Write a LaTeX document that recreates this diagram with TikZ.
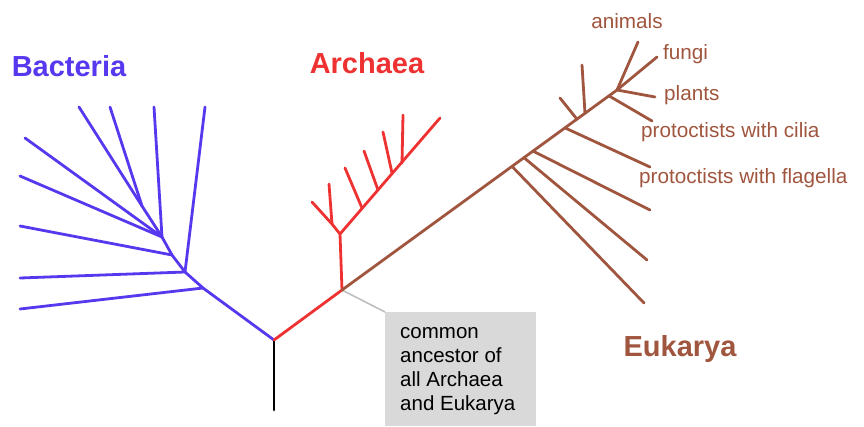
\documentclass[tikz,border=0pt]{standalone}
\usepackage{fontspec}
\setmainfont{Liberation Sans}
\definecolor{bact}{RGB}{88,56,238}
\definecolor{arch}{RGB}{238,50,50}
\definecolor{euk}{RGB}{160,85,62}
\definecolor{boxgray}{RGB}{217,217,217}
\definecolor{conngray}{RGB}{190,190,190}
\tikzset{
  br/.style={line width=2.8pt, line join=round, line cap=round},
  bactline/.style={br, draw=bact},
  archline/.style={br, draw=arch},
  eukline/.style={br, draw=euk},
  trunkline/.style={br, draw=black},
  grouplabel/.style={font=\fontsize{29}{34}\selectfont\bfseries, inner sep=0pt, anchor=base},
  leaflabel/.style={font=\fontsize{20.7}{24}\selectfont, text=euk, inner sep=0pt},
  ancbox/.style={fill=boxgray, draw=none, inner sep=0pt},
  conn/.style={draw=conngray, line width=1.6pt},
}
\begin{document}
\begin{tikzpicture}[x=1pt, y=-1pt]
\useasboundingbox (0,0) rectangle (864,426);
% key points
\coordinate (T) at (274,410);
\coordinate (R) at (274,340);
% bacteria
\coordinate (b1) at (203,288);
\coordinate (b2) at (185,272);
\coordinate (b3) at (172,255);
\coordinate (b4) at (162,237);
\coordinate (b5) at (142,206);
\coordinate (bl1) at (20,309);
\coordinate (bl2) at (20,278);
\coordinate (bl3) at (205,107);
\coordinate (bl4) at (20,226);
\coordinate (bl5) at (154,107);
\coordinate (bl6) at (20,176);
\coordinate (bl7) at (25,138);
\coordinate (bl8) at (79,107);
\coordinate (bl9) at (110,107);
% archaea
\coordinate (A) at (342,290);
\coordinate (B) at (340,234);
\coordinate (c1) at (332,224);
\coordinate (al1) at (312,202);
\coordinate (al2) at (329,184);
\coordinate (atop) at (440,118);
\coordinate (s1) at (362,208);
\coordinate (s2) at (378,190);
\coordinate (s3) at (392,173);
\coordinate (s4) at (402,163);
\coordinate (al3) at (345,168);
\coordinate (al4) at (364,151);
\coordinate (al5) at (383,132);
\coordinate (al6) at (403,115);
% eukarya
\coordinate (E) at (617,90);
\coordinate (j1) at (512,166.4);
\coordinate (j2) at (524,157.7);
\coordinate (j3) at (533,151.1);
\coordinate (j4) at (565,127.9);
\coordinate (j5) at (577,119.2);
\coordinate (j6) at (585,113.3);
\coordinate (j7) at (609,95.9);
\coordinate (el1) at (644,303);
\coordinate (el2) at (647,260);
\coordinate (el3) at (650,210);
\coordinate (el4) at (650,167);
\coordinate (el5) at (560,98);
\coordinate (el6) at (582,65);
\coordinate (el7) at (652,121);
\coordinate (el8) at (638,42);
\coordinate (el9) at (657,57);
\coordinate (el10) at (655,97);

% grey box and its connector
\node[ancbox, minimum width=151pt, minimum height=114pt, anchor=north west] (box) at (385,312) {};
\draw[conn] (A) -- (box.north west);
\node[font=\fontsize{20.5}{24}\selectfont, align=left, inner sep=0pt, anchor=base west] (boxtext) at (400,410)
  {common\\ancestor of\\all Archaea\\and Eukarya};

% trunk
\draw[trunkline] (T) -- (R);
% bacteria
\draw[bactline] (R) -- (b1) -- (b2) -- (b3) -- (b4) -- (b5) -- (bl8);
\draw[bactline] (b1) -- (bl1);
\draw[bactline] (b2) -- (bl2);
\draw[bactline] (b2) -- (bl3);
\draw[bactline] (b3) -- (bl4);
\draw[bactline] (b4) -- (bl5);
\draw[bactline] (b4) -- (bl6);
\draw[bactline] (b4) -- (bl7);
\draw[bactline] (b5) -- (bl9);
% archaea
\draw[archline] (R) -- (A) -- (B) -- (c1) -- (al1);
\draw[archline] (c1) -- (al2);
\draw[archline] (B) -- (atop);
\draw[archline] (s1) -- (al3);
\draw[archline] (s2) -- (al4);
\draw[archline] (s3) -- (al5);
\draw[archline] (s4) -- (al6);
% eukarya
\draw[eukline] (A) -- (E) -- (el8);
\draw[eukline] (E) -- (el9);
\draw[eukline] (E) -- (el10);
\draw[eukline] (j1) -- (el1);
\draw[eukline] (j2) -- (el2);
\draw[eukline] (j3) -- (el3);
\draw[eukline] (j4) -- (el4);
\draw[eukline] (j5) -- (el5);
\draw[eukline] (j6) -- (el6);
\draw[eukline] (j7) -- (el7);

% labels
\node[grouplabel, text=bact] (lbact) at (69,76) {Bacteria};
\node[grouplabel, text=arch] (larch) at (367,73) {Archaea};
\node[grouplabel, text=euk] (leuk) at (680,356) {Eukarya};
\node[leaflabel, anchor=base] (lanimals) at (627,28) {animals};
\node[leaflabel, anchor=base west] (lfungi) at (663,59) {fungi};
\node[leaflabel, anchor=base west] (lplants) at (664,100) {plants};
\node[leaflabel, anchor=base west] (lcilia) at (641,137) {protoctists with cilia};
\node[leaflabel, anchor=base west] (lflag) at (639,183) {protoctists with flagella};
\end{tikzpicture}
\end{document}
